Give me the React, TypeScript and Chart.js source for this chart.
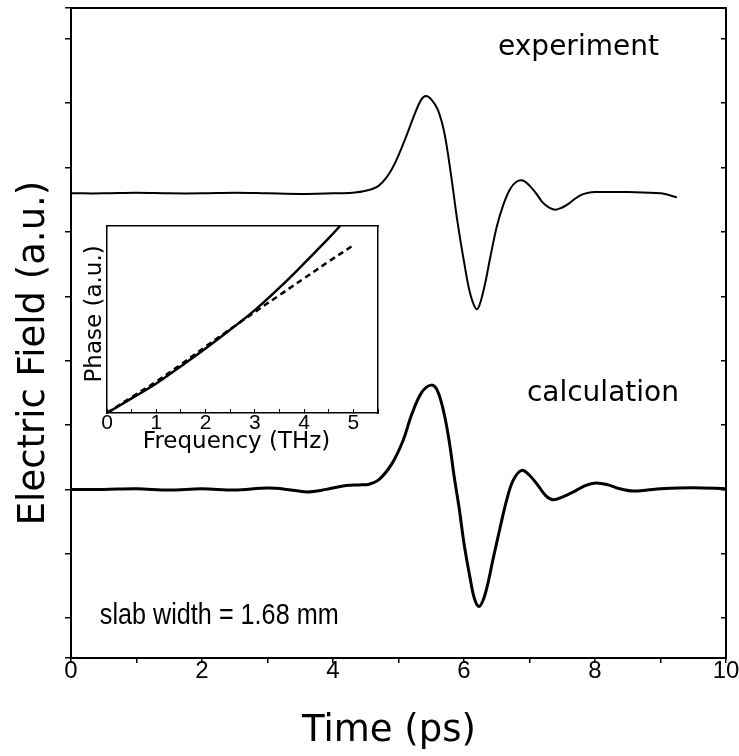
import React, { useEffect, useRef } from "react";
import { Chart, registerables } from "chart.js";

Chart.register(...registerables);

// ---------- main panel data (time in ps, field in a.u.) ----------
const experimentTime = [0, 0.5, 1, 1.5, 2, 2.5, 3, 3.5, 4, 4.3, 4.5, 4.7, 4.9, 5.1, 5.25, 5.35, 5.42, 5.5, 5.6, 5.7, 5.8, 5.9, 6.0, 6.1, 6.2, 6.3, 6.4, 6.5, 6.6, 6.7, 6.8, 6.9, 7.0, 7.1, 7.2, 7.3, 7.4, 7.5, 7.6, 7.7, 7.8, 7.9, 8.0, 8.5, 9.0, 9.25];
const experimentField = [0, 0, 0.005, 0, 0, 0.005, 0, -0.005, 0, 0.005, 0.02, 0.06, 0.19, 0.42, 0.62, 0.73, 0.756, 0.73, 0.65, 0.47, 0.15, -0.22, -0.53, -0.79, -0.9, -0.75, -0.5, -0.26, -0.09, 0.03, 0.09, 0.1, 0.06, 0, -0.07, -0.11, -0.127, -0.11, -0.08, -0.04, -0.01, 0.005, 0.01, 0.01, 0, -0.03];
const experimentOffset = 2.3;

const calculationTime = [0, 0.5, 1, 1.5, 2, 2.5, 3, 3.3, 3.6, 3.9, 4.2, 4.4, 4.55, 4.71, 4.9, 5.07, 5.2, 5.35, 5.5, 5.6, 5.7, 5.78, 5.85, 5.93, 6.0, 6.09, 6.16, 6.23, 6.3, 6.37, 6.44, 6.55, 6.65, 6.75, 6.88, 7.0, 7.13, 7.25, 7.36, 7.5, 7.67, 7.85, 8.02, 8.2, 8.38, 8.58, 8.8, 9.0, 9.5, 10];
const calculationField = [0, 0, 0.005, -0.005, 0.005, -0.005, 0.01, 0, -0.02, 0, 0.03, 0.035, 0.04, 0.08, 0.2, 0.38, 0.58, 0.75, 0.81, 0.76, 0.58, 0.355, 0.1, -0.16, -0.42, -0.68, -0.85, -0.91, -0.85, -0.72, -0.55, -0.3, -0.085, 0.07, 0.148, 0.11, 0.03, -0.05, -0.08, -0.06, -0.02, 0.03, 0.05, 0.035, 0.005, -0.013, -0.005, 0.005, 0.013, 0.005];

const timeTickLabels = ["0", "2", "4", "6", "8", "10"];

// ---------- inset data (frequency in THz, phase in a.u.) ----------
const phaseFreqSolid = [0, 0.5, 1, 1.5, 2, 2.5, 3, 3.5, 4, 4.5, 4.73];
const phaseSolid = [0, 0.78, 1.58, 2.5, 3.45, 4.45, 5.5, 6.7, 8.0, 9.35, 10.0];
const phaseFreqDashed = [0, 0.5, 1, 1.5, 2, 2.5, 3, 3.5, 4, 4.5, 5];
const phaseDashed = [0, 0.85, 1.68, 2.6, 3.55, 4.48, 5.4, 6.3, 7.2, 8.1, 8.97];
const freqTickLabels = ["0", "1", "2", "3", "4", "5"];

const SANS = "'Liberation Sans', Arial, sans-serif";
const WIDE = "'DejaVu Sans', sans-serif";

function toPoints(xs: number[], ys: number[], off = 0) {
  return xs.map((x, i) => ({ x, y: ys[i] + off }));
}

const mainText = {
  id: "mainText",
  afterDraw(chart: any) {
    const { ctx, scales } = chart;
    const xs = scales.x;
    const ys = scales.y;
    ctx.save();
    ctx.fillStyle = "#000";
    ctx.textBaseline = "alphabetic";
    ctx.textAlign = "left";
    ctx.font = `28px ${WIDE}`;
    ctx.fillText("experiment", xs.getPixelForValue(6.52), ys.getPixelForValue(3.375));
    ctx.fillText("calculation", xs.getPixelForValue(6.96), ys.getPixelForValue(0.687));
    // condensed label, as in the original
    ctx.save();
    ctx.translate(xs.getPixelForValue(0.44), ys.getPixelForValue(-1.046));
    ctx.scale(0.84, 1);
    ctx.font = `30px ${SANS}`;
    ctx.fillText("slab width = 1.68 mm", 0, 0);
    ctx.restore();
    // axis titles
    ctx.font = `37px ${WIDE}`;
    ctx.textAlign = "center";
    ctx.fillText("Time (ps)", 389, 741);
    ctx.translate(44, 353);
    ctx.rotate(-Math.PI / 2);
    ctx.fillText("Electric Field (a.u.)", 0, 0);
    ctx.restore();
  },
};

const insetText = {
  id: "insetText",
  afterDraw(chart: any) {
    const { ctx, scales, chartArea } = chart;
    const xs = scales.x;
    const ys = scales.y;
    ctx.save();
    ctx.fillStyle = "#000";
    ctx.textBaseline = "alphabetic";
    ctx.textAlign = "center";
    ctx.font = `23px ${WIDE}`;
    ctx.fillText("Frequency (THz)", xs.getPixelForValue(2.63), chartArea.bottom + 35);
    ctx.translate(chartArea.left - 6, ys.getPixelForValue(5.3));
    ctx.rotate(-Math.PI / 2);
    ctx.fillText("Phase (a.u.)", 0, 0);
    ctx.restore();
  },
};

export default function App() {
  const mainRef = useRef<HTMLCanvasElement | null>(null);
  const insetRef = useRef<HTMLCanvasElement | null>(null);

  useEffect(() => {
    if (!mainRef.current || !insetRef.current) return;

    const main = new Chart(mainRef.current, {
      type: "line",
      data: {
        datasets: [
          {
            label: "experiment",
            data: toPoints(experimentTime, experimentField, experimentOffset),
            borderColor: "#000",
            borderWidth: 2,
            pointRadius: 0,
            tension: 0.35,
            fill: false,
          },
          {
            label: "calculation",
            data: toPoints(calculationTime, calculationField),
            borderColor: "#000",
            borderWidth: 3,
            pointRadius: 0,
            tension: 0.35,
            fill: false,
          },
        ],
      },
      options: {
        animation: false,
        responsive: false,
        events: [],
        layout: { padding: 0 },
        plugins: { legend: { display: false }, tooltip: { enabled: false }, title: { display: false } },
        scales: {
          x: {
            type: "linear",
            position: "bottom",
            min: 0,
            max: 10,
            afterFit: (s: any) => { s.height = 98; },
            border: { display: true, color: "#000", width: 2 },
            grid: { display: true, drawOnChartArea: false, drawTicks: true, tickLength: 5, color: "#000", lineWidth: 1.5 },
            ticks: {
              stepSize: 1,
              autoSkip: false,
              maxRotation: 0,
              padding: -6,
              color: "#000",
              font: { family: SANS, size: 24 },
              callback: (v: any) => {
                const s = String(v);
                return timeTickLabels.includes(s) ? s : "";
              },
            },
          },
          x2: {
            type: "linear",
            position: "top",
            min: 0,
            max: 10,
            afterFit: (s: any) => { s.height = 8; },
            border: { display: true, color: "#000", width: 2 },
            grid: { display: false, drawTicks: false },
            ticks: { display: false },
          },
          y: {
            type: "linear",
            position: "left",
            min: -1.31,
            max: 3.74,
            afterFit: (s: any) => { s.width = 71; },
            border: { display: true, color: "#000", width: 2 },
            grid: { display: true, drawOnChartArea: false, drawTicks: true, tickLength: 6, color: "#000", lineWidth: 1.5 },
            ticks: { display: false, stepSize: 0.5 },
          },
          y2: {
            type: "linear",
            position: "right",
            min: -1.31,
            max: 3.74,
            afterFit: (s: any) => { s.width = 13; },
            border: { display: true, color: "#000", width: 2 },
            grid: { display: true, drawOnChartArea: false, drawTicks: true, tickLength: -5, color: "#000", lineWidth: 1.5 },
            ticks: { display: false, stepSize: 0.5 },
          },
        },
      },
      plugins: [mainText],
    } as any);

    const inset = new Chart(insetRef.current, {
      type: "line",
      data: {
        datasets: [
          {
            label: "phase",
            data: toPoints(phaseFreqSolid, phaseSolid),
            borderColor: "#000",
            borderWidth: 2.5,
            pointRadius: 0,
            tension: 0.4,
            fill: false,
          },
          {
            label: "linear",
            data: toPoints(phaseFreqDashed, phaseDashed),
            borderColor: "#000",
            borderWidth: 2.5,
            borderDash: [6, 4],
            pointRadius: 0,
            tension: 0.4,
            fill: false,
          },
        ],
      },
      options: {
        animation: false,
        responsive: false,
        events: [],
        layout: { padding: 0 },
        plugins: { legend: { display: false }, tooltip: { enabled: false } },
        scales: {
          x: {
            type: "linear",
            position: "bottom",
            min: 0,
            max: 5.5,
            afterFit: (s: any) => { s.height = 47; },
            border: { display: true, color: "#000", width: 1.5 },
            grid: { display: true, drawOnChartArea: false, drawTicks: true, tickLength: -4, color: "#000", lineWidth: 1 },
            ticks: {
              stepSize: 0.5,
              autoSkip: false,
              maxRotation: 0,
              padding: 2,
              color: "#000",
              font: { family: SANS, size: 21 },
              callback: (v: any) => {
                const s = String(v);
                return freqTickLabels.includes(s) ? s : "";
              },
            },
          },
          x2: {
            type: "linear",
            position: "top",
            min: 0,
            max: 5.5,
            afterFit: (s: any) => { s.height = 11; },
            border: { display: true, color: "#000", width: 1.5 },
            grid: { display: false, drawTicks: false },
            ticks: { display: false },
          },
          y: {
            type: "linear",
            position: "left",
            min: 0,
            max: 10,
            afterFit: (s: any) => { s.width = 47; },
            border: { display: true, color: "#000", width: 1.5 },
            grid: { display: false, drawTicks: false },
            ticks: { display: false },
          },
          y2: {
            type: "linear",
            position: "right",
            min: 0,
            max: 10,
            afterFit: (s: any) => { s.width = 12; },
            border: { display: true, color: "#000", width: 1.5 },
            grid: { display: false, drawTicks: false },
            ticks: { display: false },
          },
        },
      },
      plugins: [insetText],
    } as any);

    return () => {
      main.destroy();
      inset.destroy();
    };
  }, []);

  return (
    <div style={{ position: "absolute", left: 0, top: 0, width: 739, height: 756, background: "#fff" }}>
      <canvas ref={mainRef} width={739} height={756} style={{ position: "absolute", left: 0, top: 0, width: 739, height: 756 }} />
      <canvas ref={insetRef} width={330} height={245} style={{ position: "absolute", left: 60, top: 215, width: 330, height: 245 }} />
    </div>
  );
}
